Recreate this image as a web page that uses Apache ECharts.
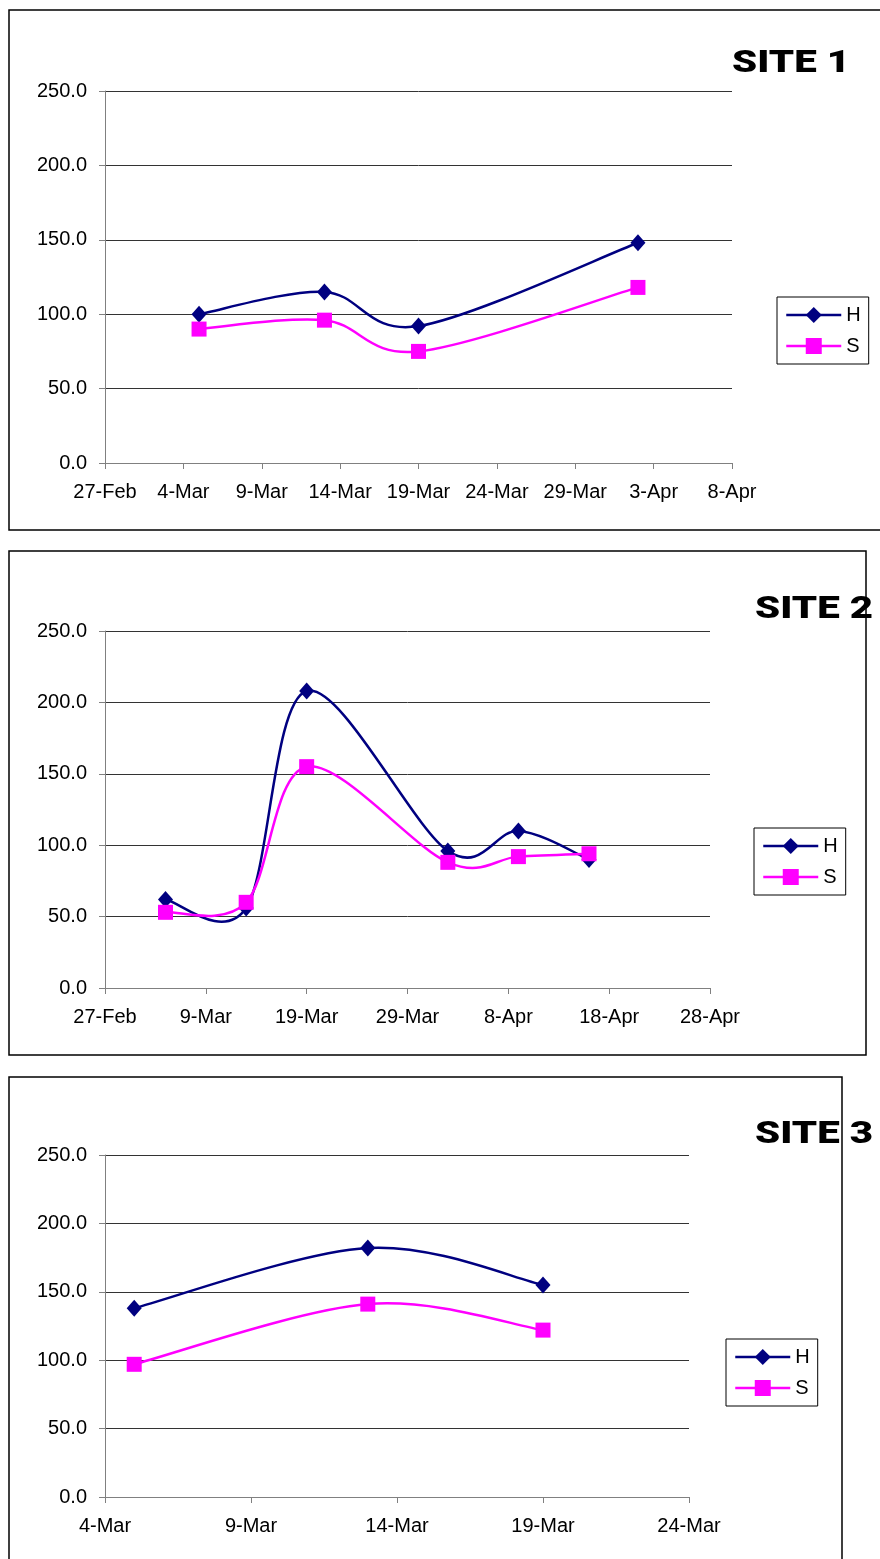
<!DOCTYPE html>
<html>
<head>
<meta charset="utf-8">
<script src="https://cdn.jsdelivr.net/npm/echarts@6/dist/echarts.min.js"></script>
<style>
  html, body { margin: 0; padding: 0; background: #fff; }
  #chart { width: 880px; height: 1559px; }
</style>
</head>
<body>
<div id="chart"></div>
<script>
// Value axis ticks (shared by all three sites)
const yTicks = [0, 50, 100, 150, 200, 250];
const seriesNames = ['H', 'S'];

// Site 1
const site1Dates = ['2007-03-05', '2007-03-13', '2007-03-19', '2007-04-02'];
const site1H = [100, 115, 92, 148];
const site1S = [90, 96, 75, 118];
const site1AxisDates = ['2007-02-27', '2007-04-08']; // first / last date tick
const site1StepDays = 5;

// Site 2
const site2Dates = ['2007-03-05', '2007-03-13', '2007-03-19', '2007-04-02', '2007-04-09', '2007-04-16'];
const site2H = [62, 56, 208, 96, 110, 90];
const site2S = [53, 60, 155, 88, 92, 94];
const site2AxisDates = ['2007-02-27', '2007-04-28'];
const site2StepDays = 10;

// Site 3
const site3Dates = ['2007-03-05', '2007-03-13', '2007-03-19'];
const site3H = [138, 182, 155];
const site3S = [97, 141, 122];
const site3AxisDates = ['2007-03-04', '2007-03-24'];
const site3StepDays = 5;

const DAY = 86400000;
const MONTHS = ['Jan','Feb','Mar','Apr','May','Jun','Jul','Aug','Sep','Oct','Nov','Dec'];
const FONT = 'Liberation Sans, Arial, sans-serif';
const TITLE_FONT = '900 31px Roboto, "DejaVu Sans", sans-serif';
const TITLE_WIDTH = 118;
const H_COLOR = '#000080';
const S_COLOR = '#FF00FF';
const LINE_W = 2.5;

function dayOffset(date, start) {
  return Math.round((Date.parse(date) - Date.parse(start)) / DAY);
}
function dateLabel(start) {
  return function (v) {
    const d = new Date(Date.parse(start) + v * DAY);
    return d.getUTCDate() + '-' + MONTHS[d.getUTCMonth()];
  };
}

// horizontal stretch so the heavy title text spans TITLE_WIDTH
const measureCtx = document.createElement('canvas').getContext('2d');
function titleScale(text) {
  measureCtx.font = TITLE_FONT;
  const w = measureCtx.measureText(text).width;
  return w > 0 ? TITLE_WIDTH / w : 1;
}

// Smoothed polyline through the points: cubic Bezier segments whose
// control points sit 1/6 of the neighbour-to-neighbour vector away.
function smoothCurve(color) {
  return function (params, api) {
    if (params.dataIndex !== 0) return null;
    const n = params.dataInsideLength;
    const P = [];
    for (let k = 0; k < n; k++) {
      P.push(api.coord([api.value(0, k), api.value(1, k)]));
    }
    let d = 'M' + P[0][0] + ',' + P[0][1];
    for (let k = 0; k < n - 1; k++) {
      const p0 = P[Math.max(k - 1, 0)], p1 = P[k], p2 = P[k + 1], p3 = P[Math.min(k + 2, n - 1)];
      const c1x = p1[0] + (p2[0] - p0[0]) / 6, c1y = p1[1] + (p2[1] - p0[1]) / 6;
      const c2x = p2[0] - (p3[0] - p1[0]) / 6, c2y = p2[1] - (p3[1] - p1[1]) / 6;
      d += ' C' + c1x + ',' + c1y + ' ' + c2x + ',' + c2y + ' ' + p2[0] + ',' + p2[1];
    }
    return {
      type: 'path',
      shape: { pathData: d },
      style: { fill: 'none', stroke: color, lineWidth: LINE_W, lineJoin: 'round' }
    };
  };
}

const sites = [
  { title: 'SITE 1', dates: site1Dates, h: site1H, s: site1S, axis: site1AxisDates, step: site1StepDays,
    grid: { left: 105, top: 91, width: 627, height: 372 },
    frame: { x: 9, y: 10, width: 880, height: 520 },
    titlePos: [732, 64],
    legendPos: { left: 777, top: 297 } },
  { title: 'SITE 2', dates: site2Dates, h: site2H, s: site2S, axis: site2AxisDates, step: site2StepDays,
    grid: { left: 105, top: 631, width: 605, height: 357 },
    frame: { x: 9, y: 551, width: 857, height: 504 },
    titlePos: [755, 610],
    legendPos: { left: 754, top: 828 } },
  { title: 'SITE 3', dates: site3Dates, h: site3H, s: site3S, axis: site3AxisDates, step: site3StepDays,
    grid: { left: 105, top: 1155, width: 584, height: 342 },
    frame: { x: 9, y: 1077, width: 833, height: 520 },
    titlePos: [755, 1135],
    legendPos: { left: 726, top: 1339 } }
];

const option = {
  animation: false,
  backgroundColor: '#fff',
  legend: [],
  grid: [],
  xAxis: [],
  yAxis: [],
  series: [],
  graphic: []
};

sites.forEach(function (site, i) {
  const start = site.axis[0];
  const span = dayOffset(site.axis[1], start);

  option.graphic.push({
    type: 'rect', z: 0, silent: true,
    shape: site.frame,
    style: { fill: 'none', stroke: '#000', lineWidth: 1.5 }
  });

  option.graphic.push({
    type: 'text', z: 10, silent: true,
    x: site.titlePos[0], y: site.titlePos[1],
    scaleX: titleScale(site.title),
    style: {
      text: site.title,
      font: TITLE_FONT,
      fill: '#000',
      textAlign: 'left',
      textVerticalAlign: 'middle'
    }
  });

  option.legend.push({
    orient: 'vertical',
    left: site.legendPos.left,
    top: site.legendPos.top,
    data: seriesNames,
    selectedMode: false,
    backgroundColor: '#fff',
    borderColor: '#000',
    borderWidth: 1,
    padding: [8, 8, 8, 8],
    itemWidth: 55,
    itemHeight: 20,
    itemGap: 11,
    lineStyle: { width: LINE_W, opacity: 1 },
    textStyle: { fontFamily: FONT, fontSize: 20, color: '#000' }
  });

  option.grid.push(Object.assign({ outerBoundsMode: 'none', containLabel: false }, site.grid));

  option.xAxis.push({
    type: 'value',
    gridIndex: i,
    min: 0,
    max: span,
    interval: site.step,
    splitLine: { show: false },
    axisLine: { show: true, onZero: false, lineStyle: { color: '#808080', width: 1 } },
    axisTick: { show: true, length: 6, lineStyle: { color: '#808080' } },
    axisLabel: { formatter: dateLabel(start), fontFamily: FONT, fontSize: 20, color: '#000', margin: 19 }
  });

  option.yAxis.push({
    type: 'value',
    gridIndex: i,
    min: yTicks[0],
    max: yTicks[yTicks.length - 1],
    interval: yTicks[1] - yTicks[0],
    splitLine: { show: true, lineStyle: { color: '#333', width: 1 } },
    axisLine: { show: true, lineStyle: { color: '#808080', width: 1 } },
    axisTick: { show: true, length: 6, lineStyle: { color: '#808080' } },
    axisLabel: { formatter: function (v) { return v.toFixed(1); }, fontFamily: FONT, fontSize: 20, color: '#000', margin: 18 }
  });

  const xs = site.dates.map(function (d) { return dayOffset(d, start); });
  const hData = xs.map(function (x, k) { return [x, site.h[k]]; });
  const sData = xs.map(function (x, k) { return [x, site.s[k]]; });

  // markers (the connecting curves are drawn by the custom series below)
  option.series.push({
    name: 'H', type: 'line', xAxisIndex: i, yAxisIndex: i,
    data: hData,
    symbol: 'diamond', symbolSize: [15, 17],
    lineStyle: { color: H_COLOR, width: LINE_W, opacity: 0 },
    itemStyle: { color: H_COLOR },
    z: 3
  });
  option.series.push({
    name: 'S', type: 'line', xAxisIndex: i, yAxisIndex: i,
    data: sData,
    symbol: 'rect', symbolSize: 15,
    lineStyle: { color: S_COLOR, width: LINE_W, opacity: 0 },
    itemStyle: { color: S_COLOR },
    z: 4
  });
  option.series.push({
    name: 'H curve', type: 'custom', xAxisIndex: i, yAxisIndex: i,
    data: hData, renderItem: smoothCurve(H_COLOR), clip: false, silent: true, z: 2
  });
  option.series.push({
    name: 'S curve', type: 'custom', xAxisIndex: i, yAxisIndex: i,
    data: sData, renderItem: smoothCurve(S_COLOR), clip: false, silent: true, z: 2
  });
});

const chart = echarts.init(document.getElementById('chart'), null, { renderer: 'canvas' });
chart.setOption(option);
</script>
</body>
</html>
